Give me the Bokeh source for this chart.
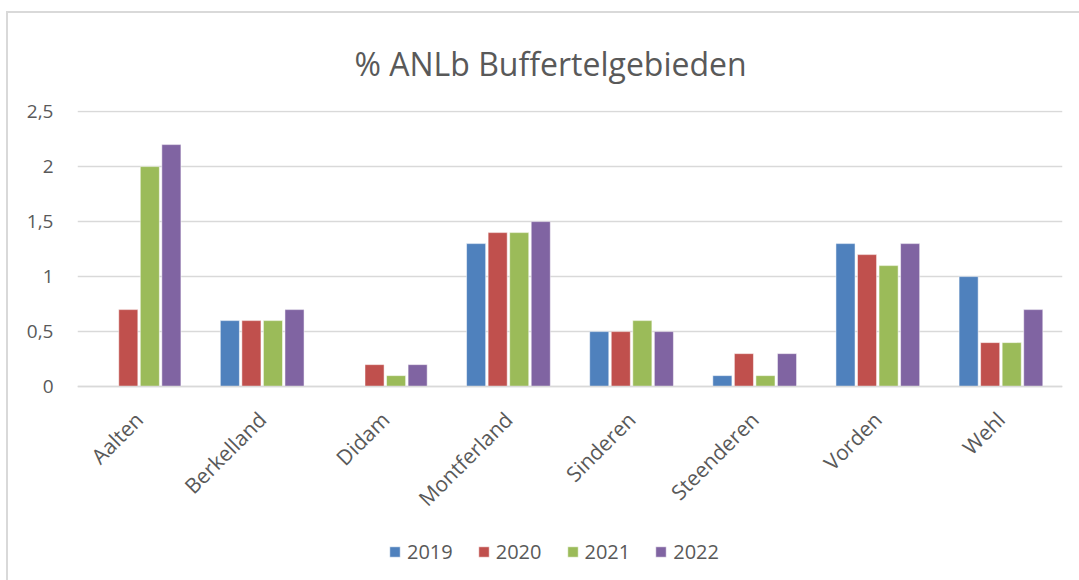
import math
from bokeh.plotting import figure
from bokeh.models import ColumnDataSource, Range1d, FixedTicker, Legend, LegendItem
from bokeh.transform import dodge
from bokeh.embed import file_html
from bokeh.resources import INLINE

categories = ["Aalten", "Berkelland", "Didam", "Montferland", "Sinderen", "Steenderen", "Vorden", "Wehl"]
years = ["2019", "2020", "2021", "2022"]
v2019 = [0.0, 0.6, 0.0, 1.3, 0.5, 0.1, 1.3, 1.0]
v2020 = [0.7, 0.6, 0.2, 1.4, 0.5, 0.3, 1.2, 0.4]
v2021 = [2.0, 0.6, 0.1, 1.4, 0.6, 0.1, 1.1, 0.4]
v2022 = [2.2, 0.7, 0.2, 1.5, 0.5, 0.3, 1.3, 0.7]
y_ticks = [0, 0.5, 1, 1.5, 2, 2.5]
y_tick_labels = ["0", "0,5", "1", "1,5", "2", "2,5"]
title_text = "% ANLb Buffertelgebieden"

colors = ["#4F81BD", "#C0504D", "#9BBB59", "#8064A2"]
offsets = [-0.2625, -0.0875, 0.0875, 0.2625]
FONT = "Open Sans"
TXT = "#595959"
GRID = "#d9d9d9"

src = ColumnDataSource(dict(cat=categories, **{"y" + y: v for y, v in zip(years, [v2019, v2020, v2021, v2022])}))

# frame extends below the zero line so the legend can sit inside it
p = figure(frame_width=985, frame_height=467, x_range=categories, y_range=Range1d(-1.735, 2.51),
           output_backend="svg", toolbar_location=None,
           min_border_left=69, min_border_right=17, min_border_top=97, min_border_bottom=10)
p.styles = {"margin-left": "6px", "margin-top": "11px",
            "border-left": "2px solid #d9d9d9", "border-top": "2px solid #d9d9d9"}

p.title.text = title_text
p.title.align = "left"
p.title.offset = 277
p.title.text_font = FONT
p.title.text_font_size = "32px"
p.title.text_font_style = "normal"
p.title.text_color = TXT
p.title.standoff = 52

p.outline_line_color = None
p.xgrid.grid_line_color = None
p.ygrid.grid_line_color = GRID
p.ygrid.grid_line_width = 1.5

p.yaxis.ticker = FixedTicker(ticks=y_ticks)
p.yaxis.major_label_overrides = {t: l for t, l in zip(y_ticks, y_tick_labels)}
p.yaxis.axis_line_color = None
p.yaxis.major_tick_line_color = None
p.yaxis.major_tick_in = 0
p.yaxis.major_tick_out = 0
p.yaxis.minor_tick_line_color = None
p.yaxis.major_label_standoff = 24
p.yaxis.major_label_text_font = FONT
p.yaxis.major_label_text_font_size = "19px"
p.yaxis.major_label_text_color = TXT

p.xaxis.fixed_location = 0
p.xaxis.axis_line_color = GRID
p.xaxis.axis_line_width = 1.5
p.xaxis.major_tick_line_color = None
p.xaxis.major_tick_in = 0
p.xaxis.major_tick_out = 0
p.xaxis.minor_tick_line_color = None
p.xaxis.major_label_orientation = math.pi / 4
p.xaxis.major_label_standoff = 29
p.xaxis.major_label_text_font = FONT
p.xaxis.major_label_text_font_size = "21px"
p.xaxis.major_label_text_color = TXT

items = []
for yr, c, off in zip(years, colors, offsets):
    r = p.vbar(x=dodge("cat", off, range=p.x_range), top="y" + yr, width=0.155, source=src,
               fill_color=c, line_color="white", line_alpha=0.5, line_width=1)
    items.append(LegendItem(label=yr, renderers=[r]))

legend = Legend(items=items, orientation="horizontal", location=(311, 12),
                label_text_font=FONT, label_text_font_size="20px", label_text_color=TXT,
                glyph_width=13, glyph_height=13, label_standoff=6, spacing=24,
                border_line_color=None, background_fill_alpha=0, margin=0, padding=4)
p.add_layout(legend, "center")

open("out.html", "w").write(file_html(p, INLINE))
